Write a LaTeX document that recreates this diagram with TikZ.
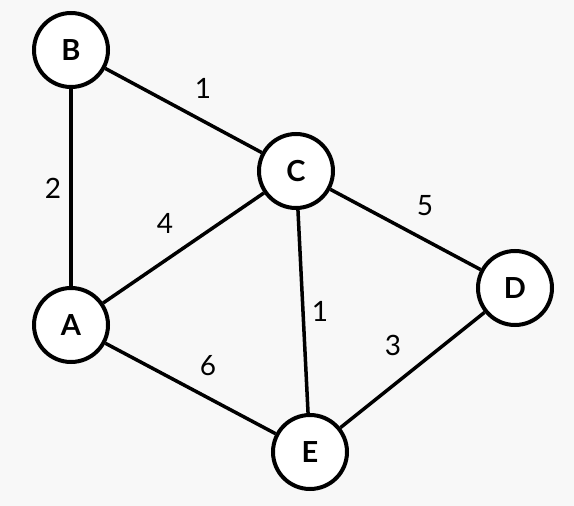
\documentclass[tikz,border=0pt]{standalone}
\usepackage{fontspec}
\setmainfont{Lato}
\usetikzlibrary{positioning}
\definecolor{bggray}{HTML}{F8F8F8}

\begin{document}
\begin{tikzpicture}[x=1pt,y=-1pt,
  vertex/.style={draw,circle,line width=4pt,fill=white,minimum size=74pt,inner sep=0pt,font=\fontsize{29}{32}\selectfont\bfseries},
  edge/.style={line width=3.5pt},
  weight/.style={font=\fontsize{28}{30}\selectfont}]
\fill[bggray] (0,0) rectangle (574,506);
\useasboundingbox (0,0) rectangle (574,506);
\node[vertex] (b) at (71,50) {B};
\node[vertex] (c) at (296,171) {C};
\node[vertex] (a) at (71,325) {A};
\node[vertex] (d) at (515,288) {D};
\node[vertex] (e) at (310,452) {E};
\draw[edge] (b) -- (c); \draw[edge] (b) -- (a); \draw[edge] (a) -- (c);
\draw[edge] (c) -- (d); \draw[edge] (c) -- (e); \draw[edge] (a) -- (e);
\draw[edge] (e) -- (d);
\node[weight] (w1) at (203,88) {1};
\node[weight] (w2) at (53,188) {2};
\node[weight] (w3) at (165,223) {4};
\node[weight] (w4) at (425,206) {5};
\node[weight] (w5) at (320,311) {1};
\node[weight] (w6) at (393,345) {3};
\node[weight] (w7) at (208,366) {6};
\end{tikzpicture}
\end{document}
